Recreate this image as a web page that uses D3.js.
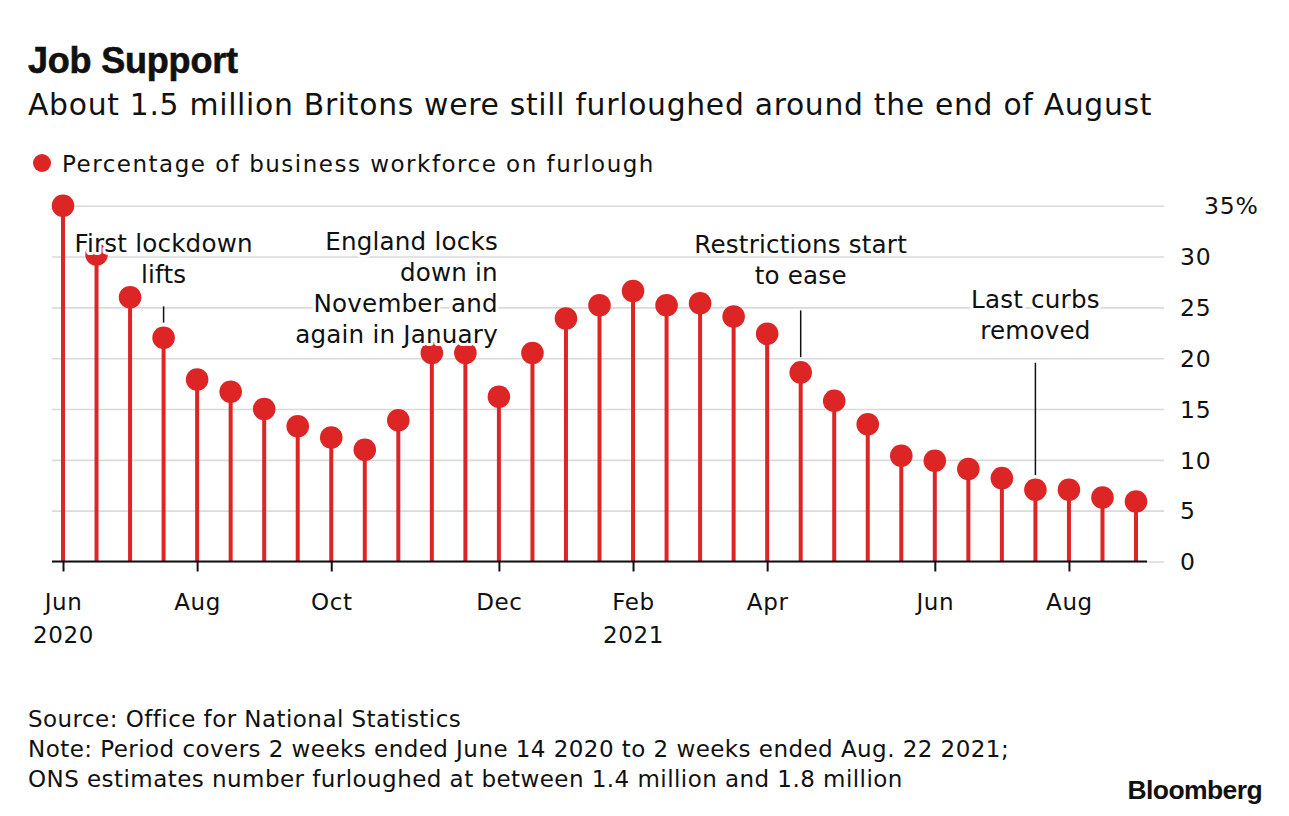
<!DOCTYPE html>
<html>
<head>
<meta charset="utf-8">
<script src="https://cdn.jsdelivr.net/npm/d3@7"></script>
<style>
  body { margin: 0; background: #fff; }
  svg text { font-family: "DejaVu Sans", sans-serif; fill: #111; }
</style>
</head>
<body>
<svg width="1289" height="816"></svg>
<script>
// furlough share, two-week periods from mid-June 2020 to late Aug 2021
var values = [35, 30.2, 26, 22, 17.9, 16.7, 15, 13.3, 12.2, 11, 13.9, 20.5, 20.5, 16.2, 20.5,
              23.9, 25.2, 26.6, 25.2, 25.4, 24.1, 22.4, 18.6, 15.8, 13.5, 10.4, 9.9, 9.1, 8.2,
              7.05, 7.05, 6.3, 5.9];
var tickIdx = [0, 4, 8, 13, 17, 21, 26, 30];
var tickMonths = ["Jun", "Aug", "Oct", "Dec", "Feb", "Apr", "Jun", "Aug"];
var tickYears = ["2020", "", "", "", "2021", "", "", ""];
var yTicks = [0, 5, 10, 15, 20, 25, 30, 35];

var red = "#dd2525";
var svg = d3.select("svg");

// x: one slot per period, y: percent
var x = d3.scalePoint().domain(d3.range(values.length)).range([63, 1136]);
var y = d3.scaleLinear().domain([0, 35]).range([561.5, 205.7]);

// Titles
svg.append("text").attr("x", 28).attr("y", 73).style("font-family", "'Liberation Sans', Arial, sans-serif")
    .style("font-weight", "bold").style("font-size", "36px").style("letter-spacing", "-0.2px")
    .attr("stroke", "#111").attr("stroke-width", 0.6).text("Job Support");
svg.append("text").attr("x", 28).attr("y", 115).style("font-size", "29.8px").style("letter-spacing", "0.7px")
    .text("About 1.5 million Britons were still furloughed around the end of August");

// Legend
svg.append("circle").attr("cx", 42).attr("cy", 163).attr("r", 9).attr("fill", red);
svg.append("text").attr("x", 62).attr("y", 172).style("font-size", "23px").style("letter-spacing", "1.5px")
    .text("Percentage of business workforce on furlough");

// Gridlines + right axis labels
var yAxis = svg.append("g").attr("transform", "translate(1164,0)")
    .call(d3.axisRight(y).tickValues(yTicks).tickSize(-(1164 - 52)).tickPadding(16)
        .tickFormat(function(d) { return d === 35 ? "35%" : d; }));
yAxis.select(".domain").remove();
yAxis.selectAll(".tick line").attr("stroke", "#dadada").attr("stroke-width", 1.6);
yAxis.selectAll(".tick text").attr("fill", "#111").style("font-size", "23.5px").style("letter-spacing", "0.8px")
    .attr("dy", "0.35em")
    .attr("x", function(d) { return d === 35 ? 40 : 16; });

// Stems
svg.append("g").selectAll("line").data(values).enter().append("line")
    .attr("x1", function(d, i) { return x(i); })
    .attr("x2", function(d, i) { return x(i); })
    .attr("y1", y(0))
    .attr("y2", function(d) { return y(d); })
    .attr("stroke", red).attr("stroke-width", 4);

// x axis
svg.append("line").attr("x1", x(0) - 11).attr("x2", x(values.length - 1) + 11)
    .attr("y1", y(0)).attr("y2", y(0)).attr("stroke", "#111").attr("stroke-width", 2);
var xAxis = svg.append("g").attr("transform", "translate(0," + y(0) + ")")
    .call(d3.axisBottom(x).tickValues(tickIdx).tickSize(10).tickPadding(0).tickFormat(""));
xAxis.select(".domain").remove();
xAxis.selectAll(".tick line").attr("stroke", "#111").attr("stroke-width", 2);
var xt = xAxis.selectAll(".tick").append("text").attr("text-anchor", "middle").attr("fill", "#111")
    .style("font-size", "23px").style("letter-spacing", "0.6px");
xt.append("tspan").attr("x", 0).attr("y", 48).text(function(d, i) { return tickMonths[i]; });
xt.append("tspan").attr("x", 0).attr("y", 81).text(function(d, i) { return tickYears[i]; });

// Dots
svg.append("g").selectAll("circle").data(values).enter().append("circle")
    .attr("cx", function(d, i) { return x(i); })
    .attr("cy", function(d) { return y(d); })
    .attr("r", 11.3).attr("fill", red);

// Annotations
var notes = [
  { i: 3, anchor: "middle", lines: ["First lockdown", "lifts"], top: 30.4, from: 25.1, to: 23.5 },
  { i: 13, anchor: "end", lines: ["England locks", "down in", "November and", "again in January"], top: 30.6 },
  { i: 22, anchor: "middle", lines: ["Restrictions start", "to ease"], top: 30.3, from: 24.7, to: 20.1 },
  { i: 29, anchor: "middle", lines: ["Last curbs", "removed"], top: 24.9, from: 19.55, to: 8.5 }
];
notes.forEach(function(n) {
  if (n.from !== undefined) {
    svg.append("line").attr("x1", x(n.i)).attr("x2", x(n.i))
        .attr("y1", y(n.from)).attr("y2", y(n.to)).attr("stroke", "#111").attr("stroke-width", 1.5);
  }
  var t = svg.append("text").attr("text-anchor", n.anchor)
      .style("font-size", "24.6px").style("letter-spacing", "0.2px")
      .attr("stroke", "#fff").attr("stroke-width", 6).attr("stroke-linejoin", "round")
      .style("paint-order", "stroke");
  n.lines.forEach(function(l, k) {
    t.append("tspan").attr("x", x(n.i) + (n.anchor === "end" ? -1 : 0))
        .attr("y", y(n.top) + k * 30.8).text(l);
  });
});

// Footer
var foot = ["Source: Office for National Statistics",
            "Note: Period covers 2 weeks ended June 14 2020 to 2 weeks ended Aug. 22 2021;",
            "ONS estimates number furloughed at between 1.4 million and 1.8 million"];
svg.append("g").selectAll("text").data(foot).enter().append("text")
    .attr("x", 28).attr("y", function(d, i) { return 727 + i * 30; })
    .style("font-size", "23px").style("letter-spacing", "0.45px").text(function(d) { return d; });

svg.append("text").attr("x", 1262).attr("y", 799).attr("text-anchor", "end")
    .style("font-family", "'Liberation Sans', Arial, sans-serif").style("font-weight", "bold")
    .style("font-size", "26.5px").style("letter-spacing", "-0.6px").text("Bloomberg");
</script>
</body>
</html>
